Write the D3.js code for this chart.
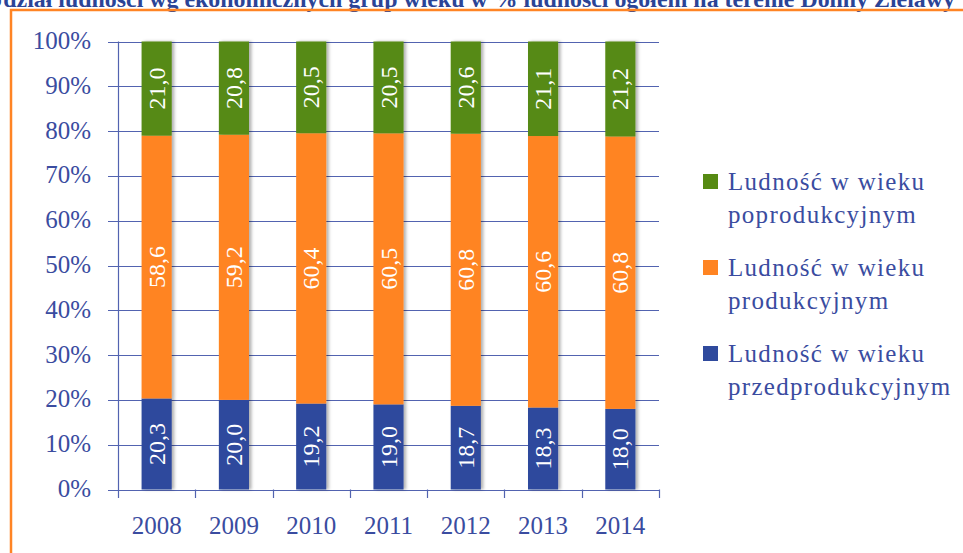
<!DOCTYPE html>
<html>
<head>
<meta charset="utf-8">
<script src="https://cdn.jsdelivr.net/npm/d3@7"></script>
<style>
  html, body { margin: 0; padding: 0; background: #fff; overflow: hidden; }
  svg { display: block; }
  text { font-family: "Liberation Serif", "DejaVu Serif", serif; }
</style>
</head>
<body>
<div class="chart"></div>
<script>
var years = ["2008", "2009", "2010", "2011", "2012", "2013", "2014"];
var preProd = [20.3, 20.0, 19.2, 19.0, 18.7, 18.3, 18.0];
var prod = [58.6, 59.2, 60.4, 60.5, 60.8, 60.6, 60.8];
var postProd = [21.0, 20.8, 20.5, 20.5, 20.6, 21.1, 21.2];
var seriesKeys = ["pre", "prod", "post"];
var seriesColors = ["#2F4A9D", "#FF8422", "#568A12"];
var legendLines = [
  ["Ludność w wieku", "poprodukcyjnym"],
  ["Ludność w wieku", "produkcyjnym"],
  ["Ludność w wieku", "przedprodukcyjnym"]
];
var legendColors = ["#568A12", "#FF8422", "#2F4A9D"];
var titleText = "Udział ludności wg ekonomicznych grup wieku w % ludności ogółem na terenie Doliny Zielawy";

var width = 963, height = 553;
var textBlue = "#3A4CA0", gridBlue = "#5263B0";

var svg = d3.select(".chart").append("svg")
  .attr("width", width).attr("height", height);

var defs = svg.append("defs");
var shadow = defs.append("filter").attr("id", "shadow")
  .attr("x", "-20%").attr("y", "-5%").attr("width", "150%").attr("height", "110%");
shadow.append("feDropShadow")
  .attr("dx", 2.5).attr("dy", 0).attr("stdDeviation", 1.5)
  .attr("flood-color", "#000").attr("flood-opacity", 0.3);

// title (cut off at top of the page, as in the source) and frame
svg.append("text")
  .attr("x", -14).attr("y", 7)
  .attr("textLength", 969).attr("lengthAdjust", "spacingAndGlyphs")
  .attr("font-size", 23).attr("font-weight", "bold")
  .attr("fill", "#2B4496")
  .text(titleText);

svg.append("rect")
  .attr("x", 11).attr("y", 10).attr("width", 1000).attr("height", 600)
  .attr("fill", "none").attr("stroke", "#FF8424").attr("stroke-width", 2.5);

var table = years.map(function(y, i) {
  return { year: y, pre: preProd[i], prod: prod[i], post: postProd[i] };
});

var stack = d3.stack().keys(seriesKeys).offset(d3.stackOffsetExpand);
var layers = stack(table);

var x = d3.scaleBand().domain(years).range([118, 659]).paddingInner(0.61).paddingOuter(0.305);
var y = d3.scaleLinear().domain([0, 1]).range([489.5, 41.5]);

// gridlines + y labels
var yTicks = d3.range(0, 11).map(function(d) { return d / 10; });
svg.append("g").selectAll("line")
  .data(yTicks).enter().append("line")
  .attr("x1", 108).attr("x2", 659)
  .attr("y1", function(d) { return Math.round(y(d)) + 0.5; })
  .attr("y2", function(d) { return Math.round(y(d)) + 0.5; })
  .attr("stroke", gridBlue).attr("stroke-width", 1.2);

svg.append("g").selectAll("text")
  .data(yTicks).enter().append("text")
  .attr("x", 91).attr("y", function(d) { return y(d) + 7.5; })
  .attr("text-anchor", "end").attr("font-size", 25).attr("fill", textBlue)
  .text(d3.format(".0%"));

// axes lines
svg.append("line")
  .attr("x1", 118.5).attr("x2", 118.5).attr("y1", y(1)).attr("y2", 498)
  .attr("stroke", gridBlue).attr("stroke-width", 1.2);

var bounds = d3.range(0, years.length + 1).map(function(i) { return 118 + i * x.step(); });
svg.append("g").selectAll("line")
  .data(bounds.slice(1)).enter().append("line")
  .attr("x1", function(d) { return Math.round(d) + 0.5; })
  .attr("x2", function(d) { return Math.round(d) + 0.5; })
  .attr("y1", y(0)).attr("y2", 498)
  .attr("stroke", gridBlue).attr("stroke-width", 1.2);

svg.append("g").selectAll("text")
  .data(years).enter().append("text")
  .attr("x", function(d) { return x(d) + x.bandwidth() / 2; })
  .attr("y", 534)
  .attr("text-anchor", "middle").attr("font-size", 25).attr("fill", textBlue)
  .text(function(d) { return d; });

// bars
var barGroup = svg.append("g").attr("filter", "url(#shadow)");
layers.forEach(function(layer, li) {
  barGroup.append("g").selectAll("rect")
    .data(layer).enter().append("rect")
    .attr("x", function(d) { return x(d.data.year); })
    .attr("width", x.bandwidth())
    .attr("y", function(d) { return y(d[1]); })
    .attr("height", function(d) { return y(d[0]) - y(d[1]); })
    .attr("fill", seriesColors[li]);
});

// value labels (rotated)
var fmt = function(v) { return v.toFixed(1).replace(".", ","); };
layers.forEach(function(layer) {
  var key = layer.key;
  svg.append("g").selectAll("text")
    .data(layer).enter().append("text")
    .attr("transform", function(d) {
      var cx = x(d.data.year) + x.bandwidth() / 2;
      var cy = (y(d[0]) + y(d[1])) / 2;
      return "translate(" + (cx + 8) + "," + cy + ") rotate(-90)";
    })
    .attr("text-anchor", "middle").attr("font-size", 24).attr("fill", "#fff")
    .text(function(d) { return fmt(d.data[key]); });
});

// legend
var legend = svg.append("g");
legendLines.forEach(function(lines, i) {
  var base = 190 + i * 86;
  legend.append("rect")
    .attr("x", 703).attr("y", base - 16).attr("width", 15).attr("height", 15)
    .attr("fill", legendColors[i]);
  lines.forEach(function(t, j) {
    legend.append("text")
      .attr("x", 728).attr("y", base + j * 33)
      .attr("font-size", 25).attr("letter-spacing", 1.3).attr("fill", textBlue)
      .text(t);
  });
});
</script>
</body>
</html>
